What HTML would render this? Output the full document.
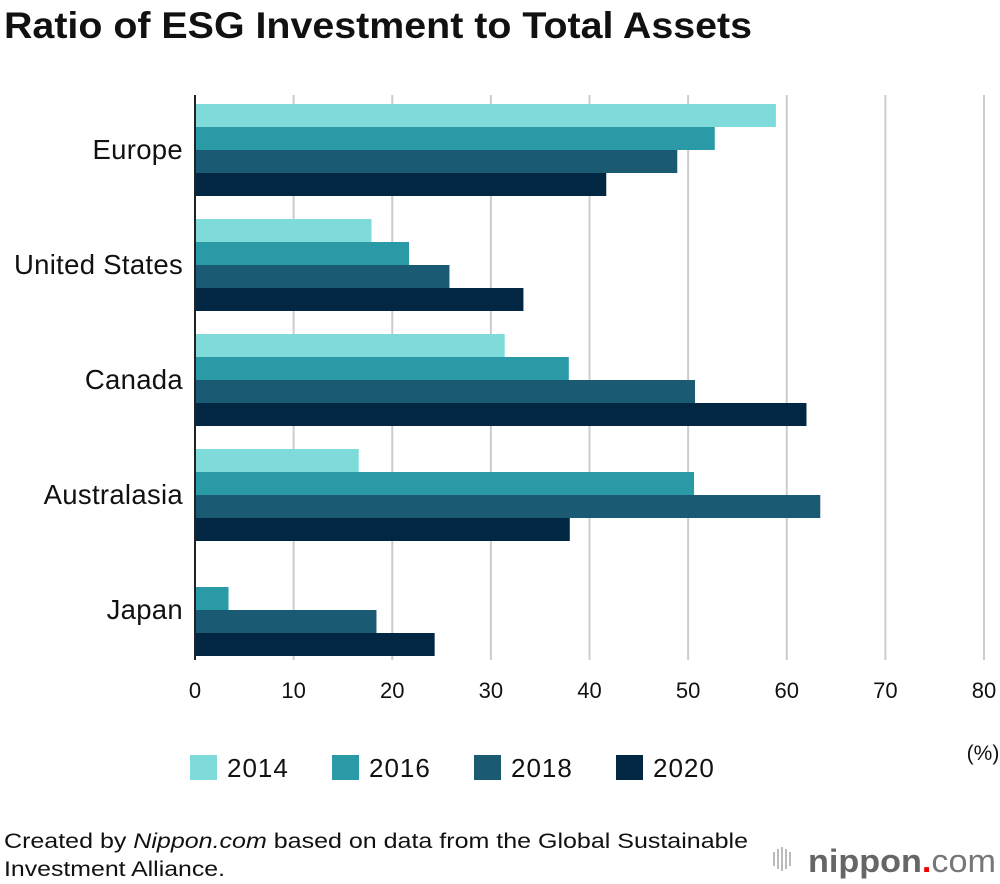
<!DOCTYPE html>
<html><head><meta charset="utf-8"><style>
body{margin:0;background:#fff;font-family:"Liberation Sans",Arial,sans-serif;}
svg{display:block}
</style></head><body>
<svg width="1000" height="884">
<text x="4" y="38" font-size="37" font-weight="bold" fill="#111" textLength="748" lengthAdjust="spacingAndGlyphs">Ratio of ESG Investment to Total Assets</text>
<g id="grid"></g><g id="bars"></g><g id="labels"></g>
<text x="983" y="760" font-size="21" text-anchor="middle" fill="#111">(%)</text>
<g id="legend"></g>
<text x="4" y="848" font-size="21" fill="#111" textLength="744" lengthAdjust="spacingAndGlyphs">Created by <tspan font-style="italic">Nippon.com</tspan> based on data from the Global Sustainable</text>
<text x="4" y="876" font-size="21" fill="#111" textLength="221" lengthAdjust="spacingAndGlyphs">Investment Alliance.</text>
<g>
<g fill="#bbb"><rect x="773" y="852" width="2" height="14"/><rect x="777" y="849" width="2" height="20"/><rect x="781" y="847" width="2" height="24"/><rect x="785" y="849" width="2" height="20"/><rect x="789" y="852" width="2" height="14"/></g>
<text x="808" y="872" font-size="32" font-weight="bold" fill="#666" textLength="188" lengthAdjust="spacingAndGlyphs">nippon<tspan fill="#e00">.</tspan><tspan font-weight="normal" fill="#777">com</tspan></text>
</g>
</svg>
<script>
const regions=["Europe","United States","Canada","Australasia","Japan"];
const years=["2014","2016","2018","2020"];
const v2014=[58.9,17.9,31.4,16.6,0];
const v2016=[52.7,21.7,37.9,50.6,3.4];
const v2018=[48.9,25.8,50.7,63.4,18.4];
const v2020=[41.7,33.3,62.0,38.0,24.3];
const ticks=[0,10,20,30,40,50,60,70,80];
const colors=["#7fdbda","#2a9aa6","#1a5a73","#022742"];
const series=[v2014,v2016,v2018,v2020];
const NS="http://www.w3.org/2000/svg";
const x0=195,x1=984,xmax=80,top0=104,grpH=115,barH=23;
const xs=v=>x0+v/xmax*(x1-x0);
function mk(t,a,p){const e=document.createElementNS(NS,t);for(const k in a)e.setAttribute(k,a[k]);p.appendChild(e);return e;}
const grid=document.getElementById("grid"),bars=document.getElementById("bars"),lab=document.getElementById("labels");
ticks.forEach(t=>{
 const l=mk("line",{x1:xs(t),x2:xs(t),y1:95,y2:660,stroke:t===0?"#222":"#ccc","stroke-width":2},grid);
 
 
 const tx=mk("text",{x:xs(t),y:698,"font-size":22,"text-anchor":"middle",fill:"#111"},lab);
 tx.textContent=t;
 
 
});
regions.forEach((r,i)=>{
 const gy=top0+i*grpH;
 const tx=mk("text",{x:183,y:gy+barH*2+9,"font-size":27.5,"letter-spacing":0.3,"text-anchor":"end",fill:"#111"},lab);
 tx.textContent=r;
 
 
 series.forEach((s,j)=>{
  if(s[i]<=0)return;
  const b=mk("rect",{x:x0+1,y:gy+j*barH,width:xs(s[i])-x0-1,height:barH,fill:colors[j]},bars);
  
  
 });
});
const lg=document.getElementById("legend");
years.forEach((y,j)=>{
 const x=190+j*142;
 const g=mk("g",{},lg);
 
 
 mk("rect",{x:x,y:755,width:27,height:25,fill:colors[j]},g);
 const t=mk("text",{x:x+37,y:777,"font-size":26,"letter-spacing":1,fill:"#111"},g);
 t.textContent=y;
});
</script>
</body></html>
